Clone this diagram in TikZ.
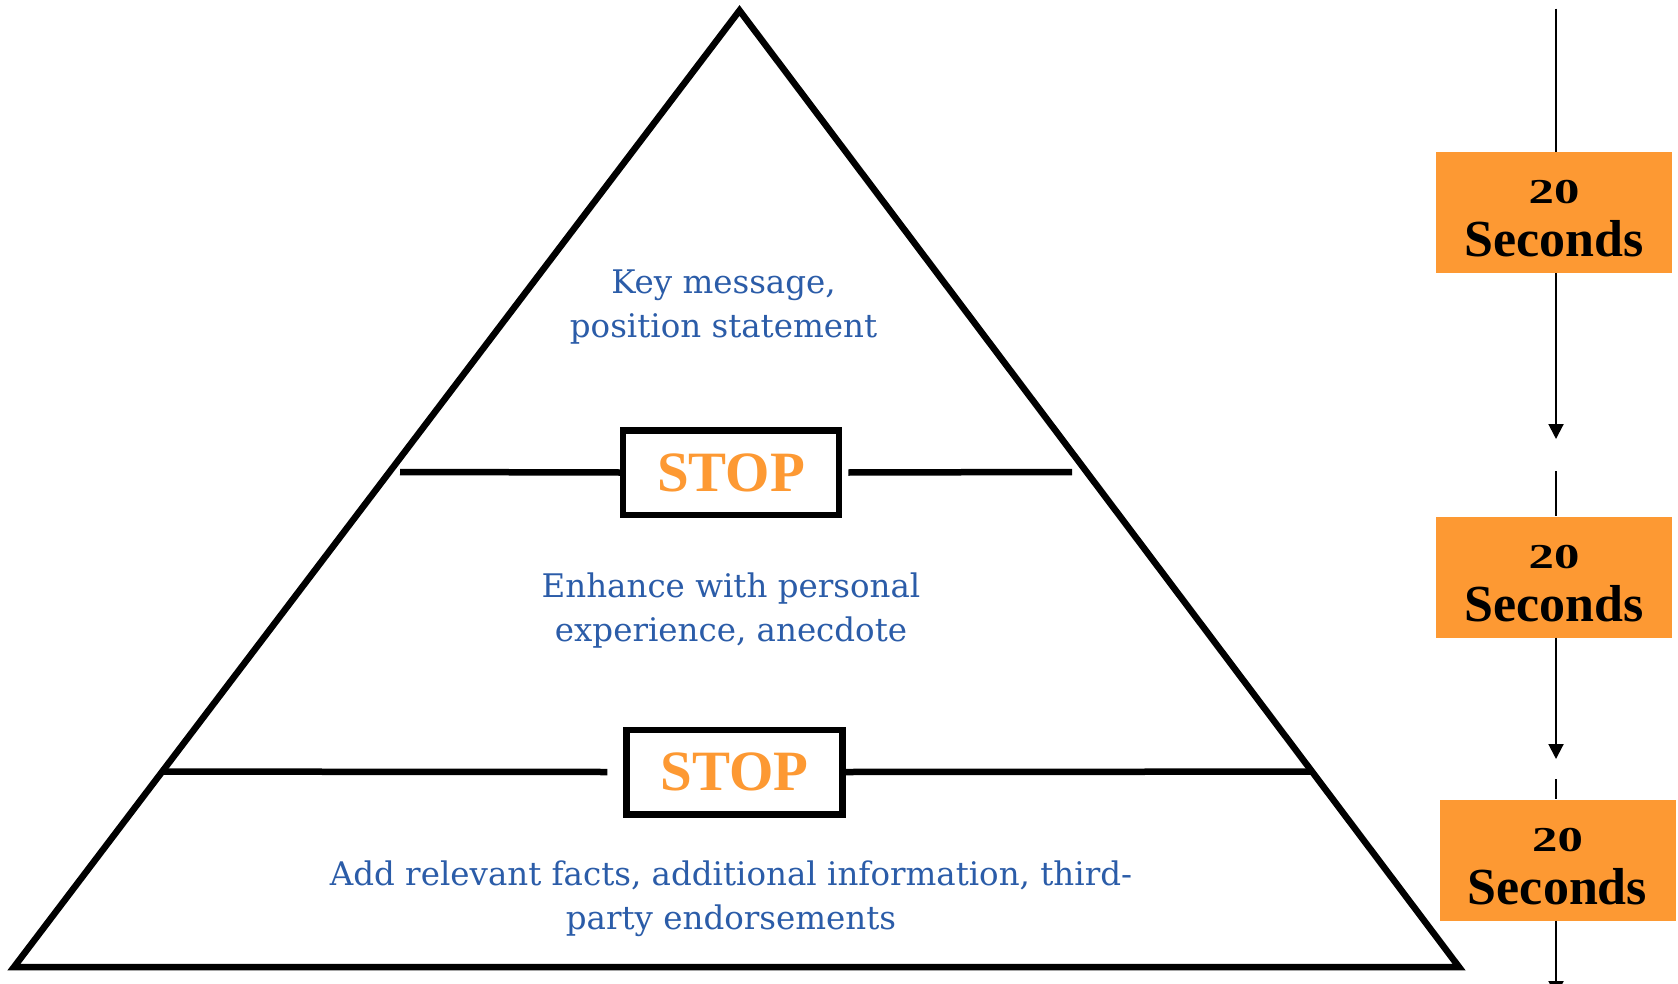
\documentclass[tikz,border=0pt]{standalone}
\usepackage{fontspec}
\usepackage{graphicx}
\usetikzlibrary{arrows.meta}
\newfontfamily\bluefont{DejaVu Serif}
\newfontfamily\tnr{Liberation Serif}
\definecolor{txtblue}{RGB}{43,92,168}
\definecolor{orng}{RGB}{253,153,51}
\newcommand{\twenty}{\rule{0pt}{36pt}\scalebox{1.45}[1]{\fontsize{35}{49}\selectfont 20}}
\begin{document}
\begin{tikzpicture}[x=1pt,y=-1pt,
  edge/.style={line width=6.5pt},
  stopbox/.style={draw=black,line width=6.5pt,fill=white,minimum width=216pt,minimum height=84.5pt,inner sep=0pt,text=orng,font=\tnr\bfseries\fontsize{57}{60}\selectfont},
  secbox/.style={fill=orng,minimum width=236pt,minimum height=121pt,inner sep=0pt,align=center,font=\tnr\bfseries\fontsize{52}{53}\selectfont},
  lvl/.style={text=txtblue,align=center,font=\bluefont\fontsize{32.5}{44}\selectfont},
  flow/.style={line width=2pt,-{Triangle[length=15pt,width=15pt]}}]
\useasboundingbox (0,0) rectangle (1678,984);
% pyramid
\coordinate (apex) at (739.5,10.5);
\coordinate (br) at (1459,967);
\coordinate (bl) at (14,967);
\draw[edge,line join=miter] (apex) -- (br) -- (bl) -- cycle;
% upper divider
\coordinate (u1) at (400,472);
\coordinate (u2) at (1072,472);
\node[stopbox] (s1) at (731,472.5) {STOP};
\draw[edge] (u1) -- (s1.west);
\draw[edge] ([xshift=6pt]s1.east) -- (u2);
% lower divider
\coordinate (l1) at (162,771.6);
\coordinate (l2) at (1312,771.6);
\node[stopbox] (s2) at (734.7,772) {STOP};
\draw[edge] (l1) -- ([xshift=-16pt]s2.west);
\draw[edge] (s2.east) -- (l2);
% level texts
\node[lvl] (t1) at (723.5,307) {Key message,\\position statement};
\node[lvl] (t2) at (731,610.5) {Enhance with personal\\experience, anecdote};
\node[lvl] (t3) at (731,899) {Add relevant facts, additional information, third-\\party endorsements};
% timing column
\coordinate (a0) at (1556,8.6);
\node[secbox] (b1) at (1554,212.5) {\twenty\\Seconds};
\node[secbox] (b2) at (1554,577) {\twenty\\Seconds};
\node[secbox] (b3) at (1557.5,860) {\twenty\\Seconds};
\coordinate (tip1) at (1556,439);
\coordinate (st2) at (1556,471);
\coordinate (tip2) at (1556,759);
\coordinate (st3) at (1556,779);
\coordinate (tip3) at (1556,996);
\draw[line width=2pt] (a0) -- (a0 |- b1.north);
\draw[flow] (a0 |- b1.south) -- (tip1);
\draw[line width=2pt] (st2) -- (st2 |- b2.north);
\draw[flow] (st2 |- b2.south) -- (tip2);
\draw[line width=2pt] (st3) -- (st3 |- b3.north);
\draw[flow] (st3 |- b3.south) -- (tip3);
\end{tikzpicture}
\end{document}
